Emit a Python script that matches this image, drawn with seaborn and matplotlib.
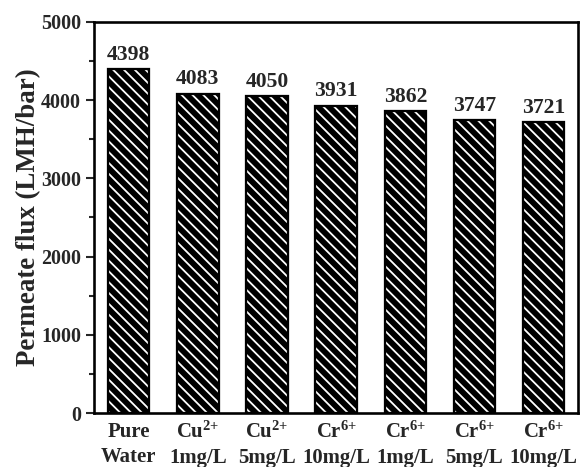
import matplotlib
matplotlib.use("Agg")
import matplotlib.pyplot as plt
import seaborn as sns
import pandas as pd
from matplotlib.ticker import MultipleLocator

# Permeate flux for pure water and heavy-metal feed solutions
categories = ["Pure\nWater", "Cu$^{2{+}}$\n1mg/L", "Cu$^{2{+}}$\n5mg/L",
              "Cr$^{6{+}}$\n10mg/L", "Cr$^{6{+}}$\n1mg/L", "Cr$^{6{+}}$\n5mg/L",
              "Cr$^{6{+}}$\n10mg/L"]
flux = [4398, 4083, 4050, 3931, 3862, 3747, 3721]
keys = [f"s{i}" for i in range(len(flux))]

DPI = 130

sns.set_style("white")
plt.rcParams["font.family"] = ["Liberation Serif", "DejaVu Serif"]
plt.rcParams["font.weight"] = "bold"
plt.rcParams["mathtext.fontset"] = "custom"
plt.rcParams["mathtext.rm"] = "Liberation Serif:bold"
plt.rcParams["mathtext.bf"] = "Liberation Serif:bold"
plt.rcParams["mathtext.it"] = "Liberation Serif:bold"
plt.rcParams["mathtext.default"] = "bf"
plt.rcParams["hatch.linewidth"] = 1.0

df = pd.DataFrame({"sample": keys, "flux": flux})

fig = plt.figure(figsize=(584 / DPI, 467 / DPI), dpi=DPI)
ax = fig.add_axes([0.161, 0.1156, 0.829, 0.8374])

# hatched fill: black face with white diagonal lines
sns.barplot(data=df, x="sample", y="flux", order=keys, color="black",
            width=0.6, saturation=1, linewidth=0, ax=ax, errorbar=None)
for p in ax.patches:
    p.set_facecolor("black")
    p.set_edgecolor("white")
    p.set_hatch("\\\\\\\\")

# black outline on top of each bar
sns.barplot(data=df, x="sample", y="flux", order=keys, fill=False,
            width=0.6, edgecolor="black", linewidth=1.25, ax=ax,
            errorbar=None)

ax.bar_label(ax.containers[0], labels=[str(v) for v in flux], padding=2.4,
             fontsize=12.0, fontweight="bold")

ax.set_xlim(-0.5, 6.5)
ax.set_ylim(0, 5000)
ax.yaxis.set_major_locator(MultipleLocator(1000))
ax.yaxis.set_minor_locator(MultipleLocator(500))
ax.set_xticks(range(len(categories)))
ax.set_xticklabels(categories, fontsize=11.5, fontweight="bold",
                   linespacing=1.35)
ax.set_xlabel("")
ax.set_ylabel("Permeate flux (LMH/bar)", fontsize=14.9, fontweight="bold",
              labelpad=0)
for lab in ax.get_yticklabels():
    lab.set_fontweight("bold")
    lab.set_fontsize(11.1)

ax.tick_params(axis="y", which="major", direction="out", length=4.3,
               width=1.15, left=True, pad=2.9)
ax.tick_params(axis="y", which="minor", direction="out", length=2.9,
               width=1.15, left=True)
ax.tick_params(axis="x", which="both", bottom=False, length=0, pad=4.8)

for s in ax.spines.values():
    s.set_visible(True)
    s.set_linewidth(1.45)
    s.set_color("black")

fig.savefig("out.png", dpi=DPI, facecolor="white")
